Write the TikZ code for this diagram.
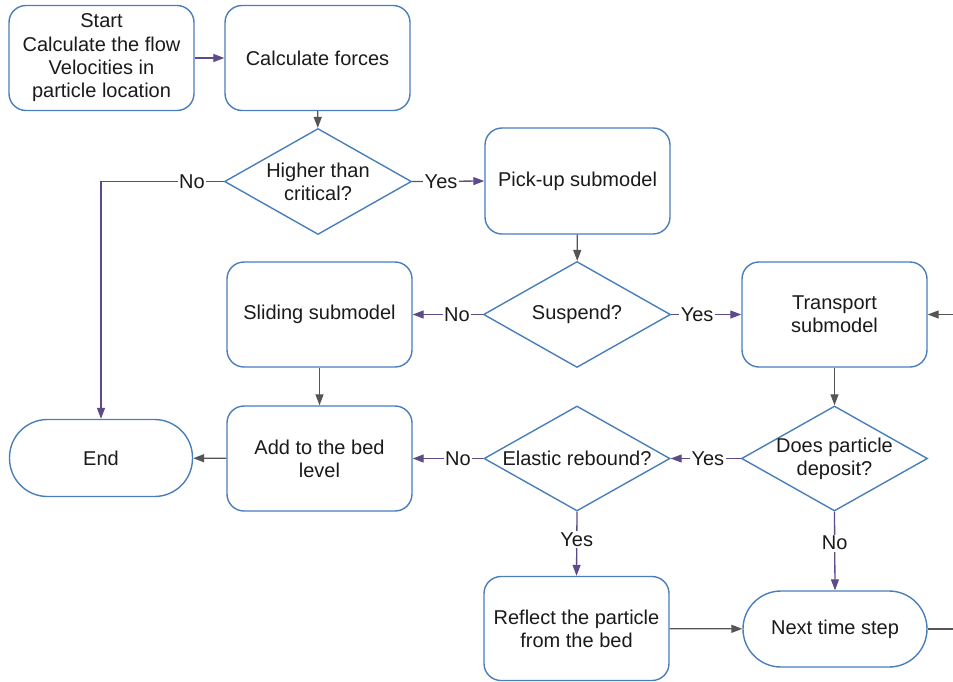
\documentclass[tikz,border=0pt]{standalone}
\usepackage{fontspec}
\setmainfont{Liberation Sans}
\usetikzlibrary{shapes.geometric,arrows.meta}
\definecolor{bord}{HTML}{4A7EBB}
\definecolor{purp}{HTML}{5E4A8A}
\definecolor{grayc}{HTML}{555555}
\definecolor{txt}{HTML}{1A1A1A}
\begin{document}
\begin{tikzpicture}[x=1pt,y=-1pt,
  font=\fontsize{20}{23.3}\selectfont,
  every node/.style={text=txt},
  box/.style={draw=bord, line width=1.4pt, rounded corners=17pt, minimum width=185pt, minimum height=105pt, inner sep=0pt, align=center},
  term/.style={draw=bord, line width=1.4pt, rounded corners=38pt, minimum width=183pt, minimum height=77pt, inner sep=0pt, align=center},
  dia/.style={draw=bord, line width=1.4pt, diamond, minimum width=187pt, minimum height=106pt, inner sep=0pt},
  dlab/.style={align=center, text=txt},
  parr/.style={draw=purp, line width=1.3pt, -{Triangle[length=11pt,width=8pt]}},
  garr/.style={draw=grayc, line width=1.3pt, -{Triangle[length=11pt,width=8pt]}},
  gline/.style={draw=grayc, line width=1.3pt},
  lab/.style={fill=white, inner sep=1.5pt, text=txt}]
\useasboundingbox (0,0) rectangle (953,681);

\node[box] (start) at (101.5,58) {Start\\Calculate the flow\\Velocities in\\particle location};
\node[box] (calc) at (317.5,58) {Calculate forces};
\node[dia, label={[dlab]center:Higher than\\critical?}] (hi) at (318,181.5) {};
\node[box, minimum height=106pt] (pick) at (577.5,181) {Pick-up submodel};
\node[dia, label={[dlab]center:Suspend?}] (susp) at (577,314.5) {};
\node[box] (slide) at (319.5,314.5) {Sliding submodel};
\node[box] (trans) at (834.5,314.5) {Transport\\submodel};
\node[term] (endn) at (101,458) {End};
\node[box] (add) at (319.5,458.5) {Add to the bed\\level};
\node[dia, minimum width=186pt, minimum height=105pt, label={[dlab]center:Elastic rebound?}] (elas) at (577,458.5) {};
\node[dia, minimum width=186pt, minimum height=105pt, label={[dlab]center:Does particle\\deposit?}] (dep) at (834.5,458.5) {};
\node[box, minimum height=104pt] (refl) at (576.5,628.5) {Reflect the particle\\from the bed};
\node[term, minimum width=184pt, minimum height=76pt] (next) at (835,629) {Next time step};
\coordinate (rin) at (953,314.5);
\coordinate (rout) at (953,629);

\draw[parr] (start) -- (calc);
\draw[garr] (calc) -- (hi);
\draw[parr] (hi.west) -| node[lab, pos=0.13] {No} (endn.north);
\draw[parr] (hi.east) -- node[lab, pos=0.4] {Yes} (pick.west);
\draw[garr] (pick) -- (susp);
\draw[parr] (susp.west) -- node[lab, pos=0.37] {No} (slide.east);
\draw[parr] (susp.east) -- node[lab, pos=0.37] {Yes} (trans.west);
\draw[garr] (rin) -- (trans.east);
\draw[garr] (slide) -- (add);
\draw[garr] (trans) -- (dep);
\draw[parr] (dep.west) -- node[lab, pos=0.47] {Yes} (elas.east);
\draw[parr] (elas.west) -- node[lab, pos=0.36] {No} (add.east);
\draw[garr] (add) -- (endn);
\draw[parr] (elas.south) -- node[lab, pos=0.44] {Yes} (refl.north);
\draw[parr] (dep.south) -- node[lab, pos=0.4] {No} (next.north);
\draw[garr] (refl) -- (next);
\draw[gline] (next.east) -- (rout);
\end{tikzpicture}
\end{document}
